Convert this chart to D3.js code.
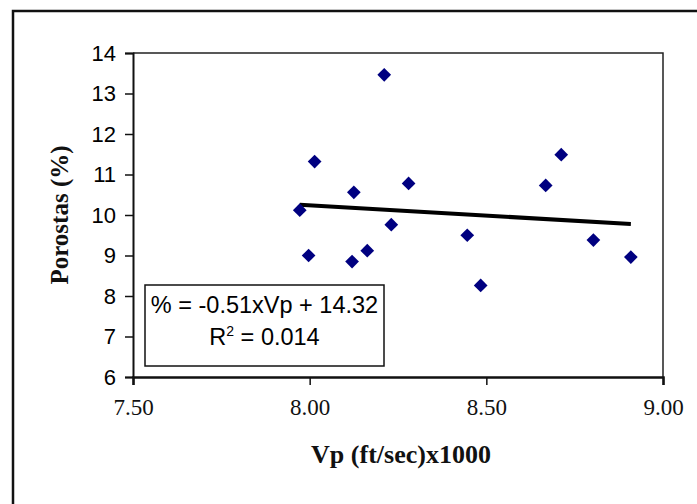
<!DOCTYPE html>
<html>
<head>
<meta charset="utf-8">
<script src="https://cdn.jsdelivr.net/npm/d3@7"></script>
<style>
  html, body { margin: 0; padding: 0; background: #fff; }
  svg { display: block; }
</style>
</head>
<body>
<svg id="chart" width="697" height="504"></svg>
<script>
// Velocity (thousand ft/sec) and porosity (%) samples
const vp = [7.972, 8.014, 7.997, 8.125, 8.120, 8.163, 8.211, 8.231, 8.280, 8.446, 8.484, 8.668, 8.712, 8.803, 8.909];
const porosity = [10.12, 11.32, 9.00, 10.56, 8.85, 9.12, 13.46, 9.76, 10.78, 9.50, 8.26, 10.73, 11.49, 9.38, 8.96];

// Linear fit stated in the label
const slope = -0.51;
const intercept = 14.32;
const rSquared = "0.014";

const xTicks = [7.5, 8.0, 8.5, 9.0];
const yTicks = [6, 7, 8, 9, 10, 11, 12, 13, 14];

const svg = d3.select("#chart");

// Outer chart frame
svg.append("path")
  .attr("d", "M13,504 L13,11 L697,11")
  .attr("fill", "none")
  .attr("stroke", "#111")
  .attr("stroke-width", 2.5);

const plot = { left: 133, right: 663, top: 53, bottom: 377 };

const x = d3.scaleLinear().domain([7.5, 9.0]).range([plot.left, plot.right]);
const y = d3.scaleLinear().domain([6, 14]).range([plot.bottom, plot.top]);

// Plot area border (top and right)
svg.append("path")
  .attr("d", `M${plot.left},${plot.top} L${plot.right},${plot.top} L${plot.right},${plot.bottom}`)
  .attr("fill", "none")
  .attr("stroke", "#222")
  .attr("stroke-width", 1.5);

// Y axis
const yAxis = svg.append("g")
  .attr("transform", `translate(${plot.left},0)`)
  .call(d3.axisLeft(y).tickValues(yTicks).tickSize(8).tickPadding(9).tickFormat(d3.format("d")));
yAxis.select(".domain").attr("stroke", "#111").attr("stroke-width", 2);
yAxis.selectAll(".tick line").attr("stroke", "#111").attr("stroke-width", 1.5);
yAxis.selectAll(".tick text")
  .attr("font-family", "'Liberation Sans', Arial, sans-serif")
  .attr("font-size", 22)
  .attr("fill", "#000");

// X axis
const xAxis = svg.append("g")
  .attr("transform", `translate(0,${plot.bottom})`)
  .call(d3.axisBottom(x).tickValues(xTicks).tickSize(8).tickPadding(14).tickFormat(d3.format(".2f")));
xAxis.select(".domain").attr("stroke", "#111").attr("stroke-width", 2.5);
xAxis.selectAll(".tick line").attr("stroke", "#111").attr("stroke-width", 1.5);
xAxis.selectAll(".tick text")
  .attr("font-family", "'Liberation Serif', 'Times New Roman', serif")
  .attr("font-size", 23)
  .attr("fill", "#111");

// Axis titles
svg.append("text")
  .attr("x", (plot.left + plot.right) / 2 + 3)
  .attr("y", 463)
  .attr("text-anchor", "middle")
  .attr("font-family", "'Liberation Serif', 'Times New Roman', serif")
  .attr("font-weight", "bold")
  .attr("font-size", 26)
  .attr("fill", "#111")
  .text("Vp (ft/sec)x1000");

svg.append("text")
  .attr("transform", `translate(68,${(plot.top + plot.bottom) / 2}) rotate(-90)`)
  .attr("text-anchor", "middle")
  .attr("font-family", "'Liberation Serif', 'Times New Roman', serif")
  .attr("font-weight", "bold")
  .attr("font-size", 25)
  .attr("fill", "#111")
  .text("Porostas (%)");

// Trend line across the range of the data
const [xMin, xMax] = d3.extent(vp);
svg.append("line")
  .attr("x1", x(xMin)).attr("y1", y(slope * xMin + intercept))
  .attr("x2", x(xMax)).attr("y2", y(slope * xMax + intercept))
  .attr("stroke", "#000")
  .attr("stroke-width", 4);

// Data points as diamonds
const diamond = d3.symbol().type(d3.symbolDiamond2).size(120);
svg.append("g")
  .selectAll("path")
  .data(vp.map((v, i) => [v, porosity[i]]))
  .join("path")
  .attr("d", diamond)
  .attr("transform", d => `translate(${x(d[0])},${y(d[1])})`)
  .attr("fill", "#000080");

// Equation box
const box = { x: 145, y: 285, w: 239, h: 81 };
svg.append("rect")
  .attr("x", box.x).attr("y", box.y)
  .attr("width", box.w).attr("height", box.h)
  .attr("fill", "#fff")
  .attr("stroke", "#111")
  .attr("stroke-width", 1.5);

const eq = svg.append("text")
  .attr("font-family", "'Liberation Sans', Arial, sans-serif")
  .attr("font-size", 23.5)
  .attr("fill", "#000")
  .attr("text-anchor", "middle");
eq.append("tspan")
  .attr("x", box.x + box.w / 2).attr("y", 313)
  .text(`% = ${slope}xVp + ${intercept}`);

const r2 = svg.append("text")
  .attr("x", box.x + box.w / 2)
  .attr("y", 345)
  .attr("font-family", "'Liberation Sans', Arial, sans-serif")
  .attr("font-size", 23.5)
  .attr("fill", "#000")
  .attr("text-anchor", "middle");
r2.append("tspan").text("R");
r2.append("tspan").attr("font-size", 14).attr("dy", -9).text("2");
r2.append("tspan").attr("dy", 9).text(` = ${rSquared}`);
</script>
</body>
</html>
